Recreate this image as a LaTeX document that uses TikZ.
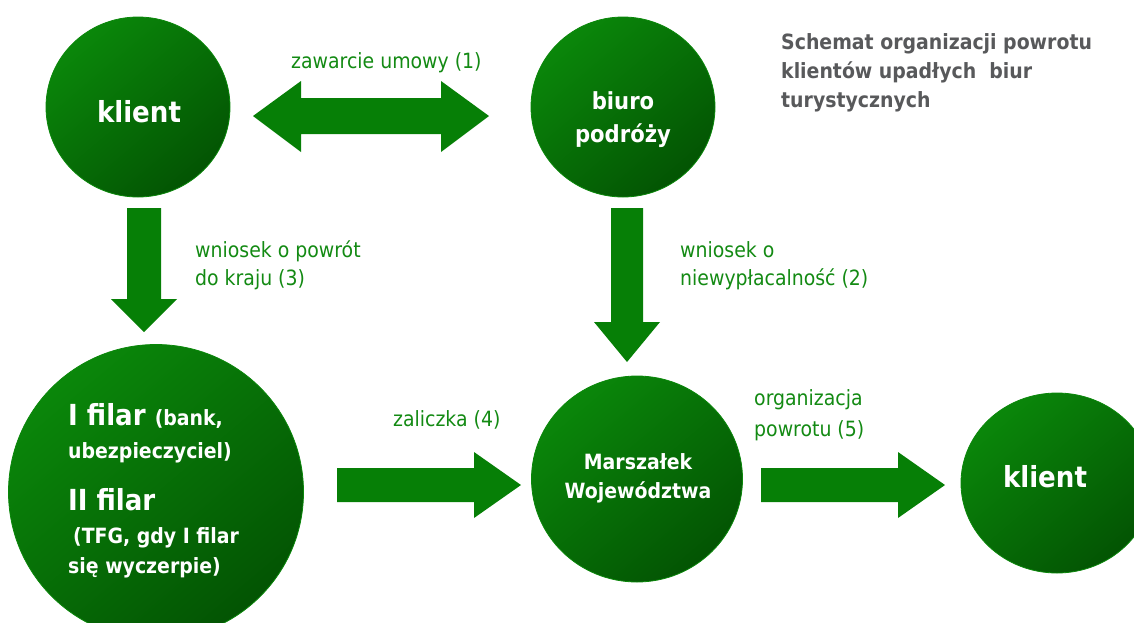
\documentclass[tikz,border=0pt]{standalone}
\usepackage{fontspec}
\setmainfont{DejaVu Sans Condensed}
\usetikzlibrary{shapes.geometric}
\definecolor{gl}{HTML}{0A870A}
\definecolor{gd}{HTML}{035403}
\definecolor{arr}{HTML}{067F06}
\definecolor{lab}{HTML}{138A13}
\definecolor{ttl}{HTML}{58595B}
\tikzset{
  ball/.style={ellipse, inner sep=0pt, draw=gl, line width=0.8pt,
    top color=gl, bottom color=gd, shading angle=40},
  intext/.style={text=white, inner sep=0pt, anchor=base},
  intextl/.style={text=white, inner sep=0pt, anchor=base west},
  lbl/.style={text=lab, font=\fontsize{21}{25}\selectfont, anchor=base west, inner sep=0pt},
  blockarrow/.style={fill=arr}
}
\newcommand{\bigb}{\bfseries\fontsize{29}{32}\selectfont}
\newcommand{\midb}{\bfseries\fontsize{21}{25}\selectfont}
\begin{document}
\begin{tikzpicture}[x=1pt,y=-1pt]
\useasboundingbox (0,0) rectangle (1134,622);
% circles
\node[ball, minimum width=184, minimum height=180] (k1) at (138,107) {};
\node[ball, minimum width=184, minimum height=180] (bp) at (623,107) {};
\node[ball, minimum width=295, minimum height=295] (fil) at (156,492) {};
\node[ball, minimum width=211, minimum height=206] (mw) at (637,479) {};
\node[ball, minimum width=192, minimum height=180] (k2) at (1057,483) {};
% circle texts
\node[intext, font=\bigb] (k1t) at (139,122) {klient};
\node[intext, font=\bfseries\fontsize{23.5}{26}\selectfont] (bpt1) at (623,109) {biuro};
\node[intext, font=\bfseries\fontsize{23.5}{26}\selectfont] (bpt2) at (623,142) {podróży};
\node[intext, font=\midb] (mwt1) at (638,469) {Marszałek};
\node[intext, font=\midb] (mwt2) at (638,498) {Województwa};
\node[intext, font=\bigb] (k2t) at (1045,487) {klient};
\node[intextl] (f1) at (68,425) {\bigb I filar \midb(bank,};
\node[intextl, font=\midb] (f2) at (68,458) {ubezpieczyciel)};
\node[intextl, font=\bigb] (f3) at (68,510) {II filar};
\node[intextl, font=\midb] (f4) at (73,543) {(TFG, gdy I filar};
\node[intextl, font=\midb] (f5) at (68,573) {się wyczerpie)};
% title
\node[anchor=base west, inner sep=0pt, text=ttl, font=\midb] (t1) at (781,49) {Schemat organizacji powrotu};
\node[anchor=base west, inner sep=0pt, text=ttl, font=\midb] (t2) at (781,78) {klientów upadłych\ \ biur};
\node[anchor=base west, inner sep=0pt, text=ttl, font=\midb] (t3) at (781,107) {turystycznych};
% block arrows
\fill[blockarrow] (253,116) -- (301,81) -- (301,98) -- (441,98) -- (441,81) -- (489,116)
  -- (441,152) -- (441,134) -- (301,134) -- (301,152) -- cycle;
\fill[blockarrow] (127,208) -- (161,208) -- (161,299) -- (177,299) -- (144,332) -- (111,299) -- (127,299) -- cycle;
\fill[blockarrow] (611,208) -- (643,208) -- (643,322) -- (660,322) -- (627,362) -- (594,322) -- (611,322) -- cycle;
\fill[blockarrow] (337,468) -- (474,468) -- (474,452) -- (521,485) -- (474,518) -- (474,502) -- (337,502) -- cycle;
\fill[blockarrow] (761,468) -- (898,468) -- (898,452) -- (945,485) -- (898,518) -- (898,502) -- (761,502) -- cycle;
% labels
\node[lbl] (l1) at (291,68) {zawarcie umowy (1)};
\node[lbl] (l3a) at (195,257) {wniosek o powrót};
\node[lbl] (l3b) at (195,285) {do kraju (3)};
\node[lbl] (l2a) at (680,257) {wniosek o};
\node[lbl] (l2b) at (680,285) {niewypłacalność (2)};
\node[lbl] (l4) at (393,426) {zaliczka (4)};
\node[lbl] (l5a) at (754,405) {organizacja};
\node[lbl] (l5b) at (754,436) {powrotu (5)};
\end{tikzpicture}
\end{document}
